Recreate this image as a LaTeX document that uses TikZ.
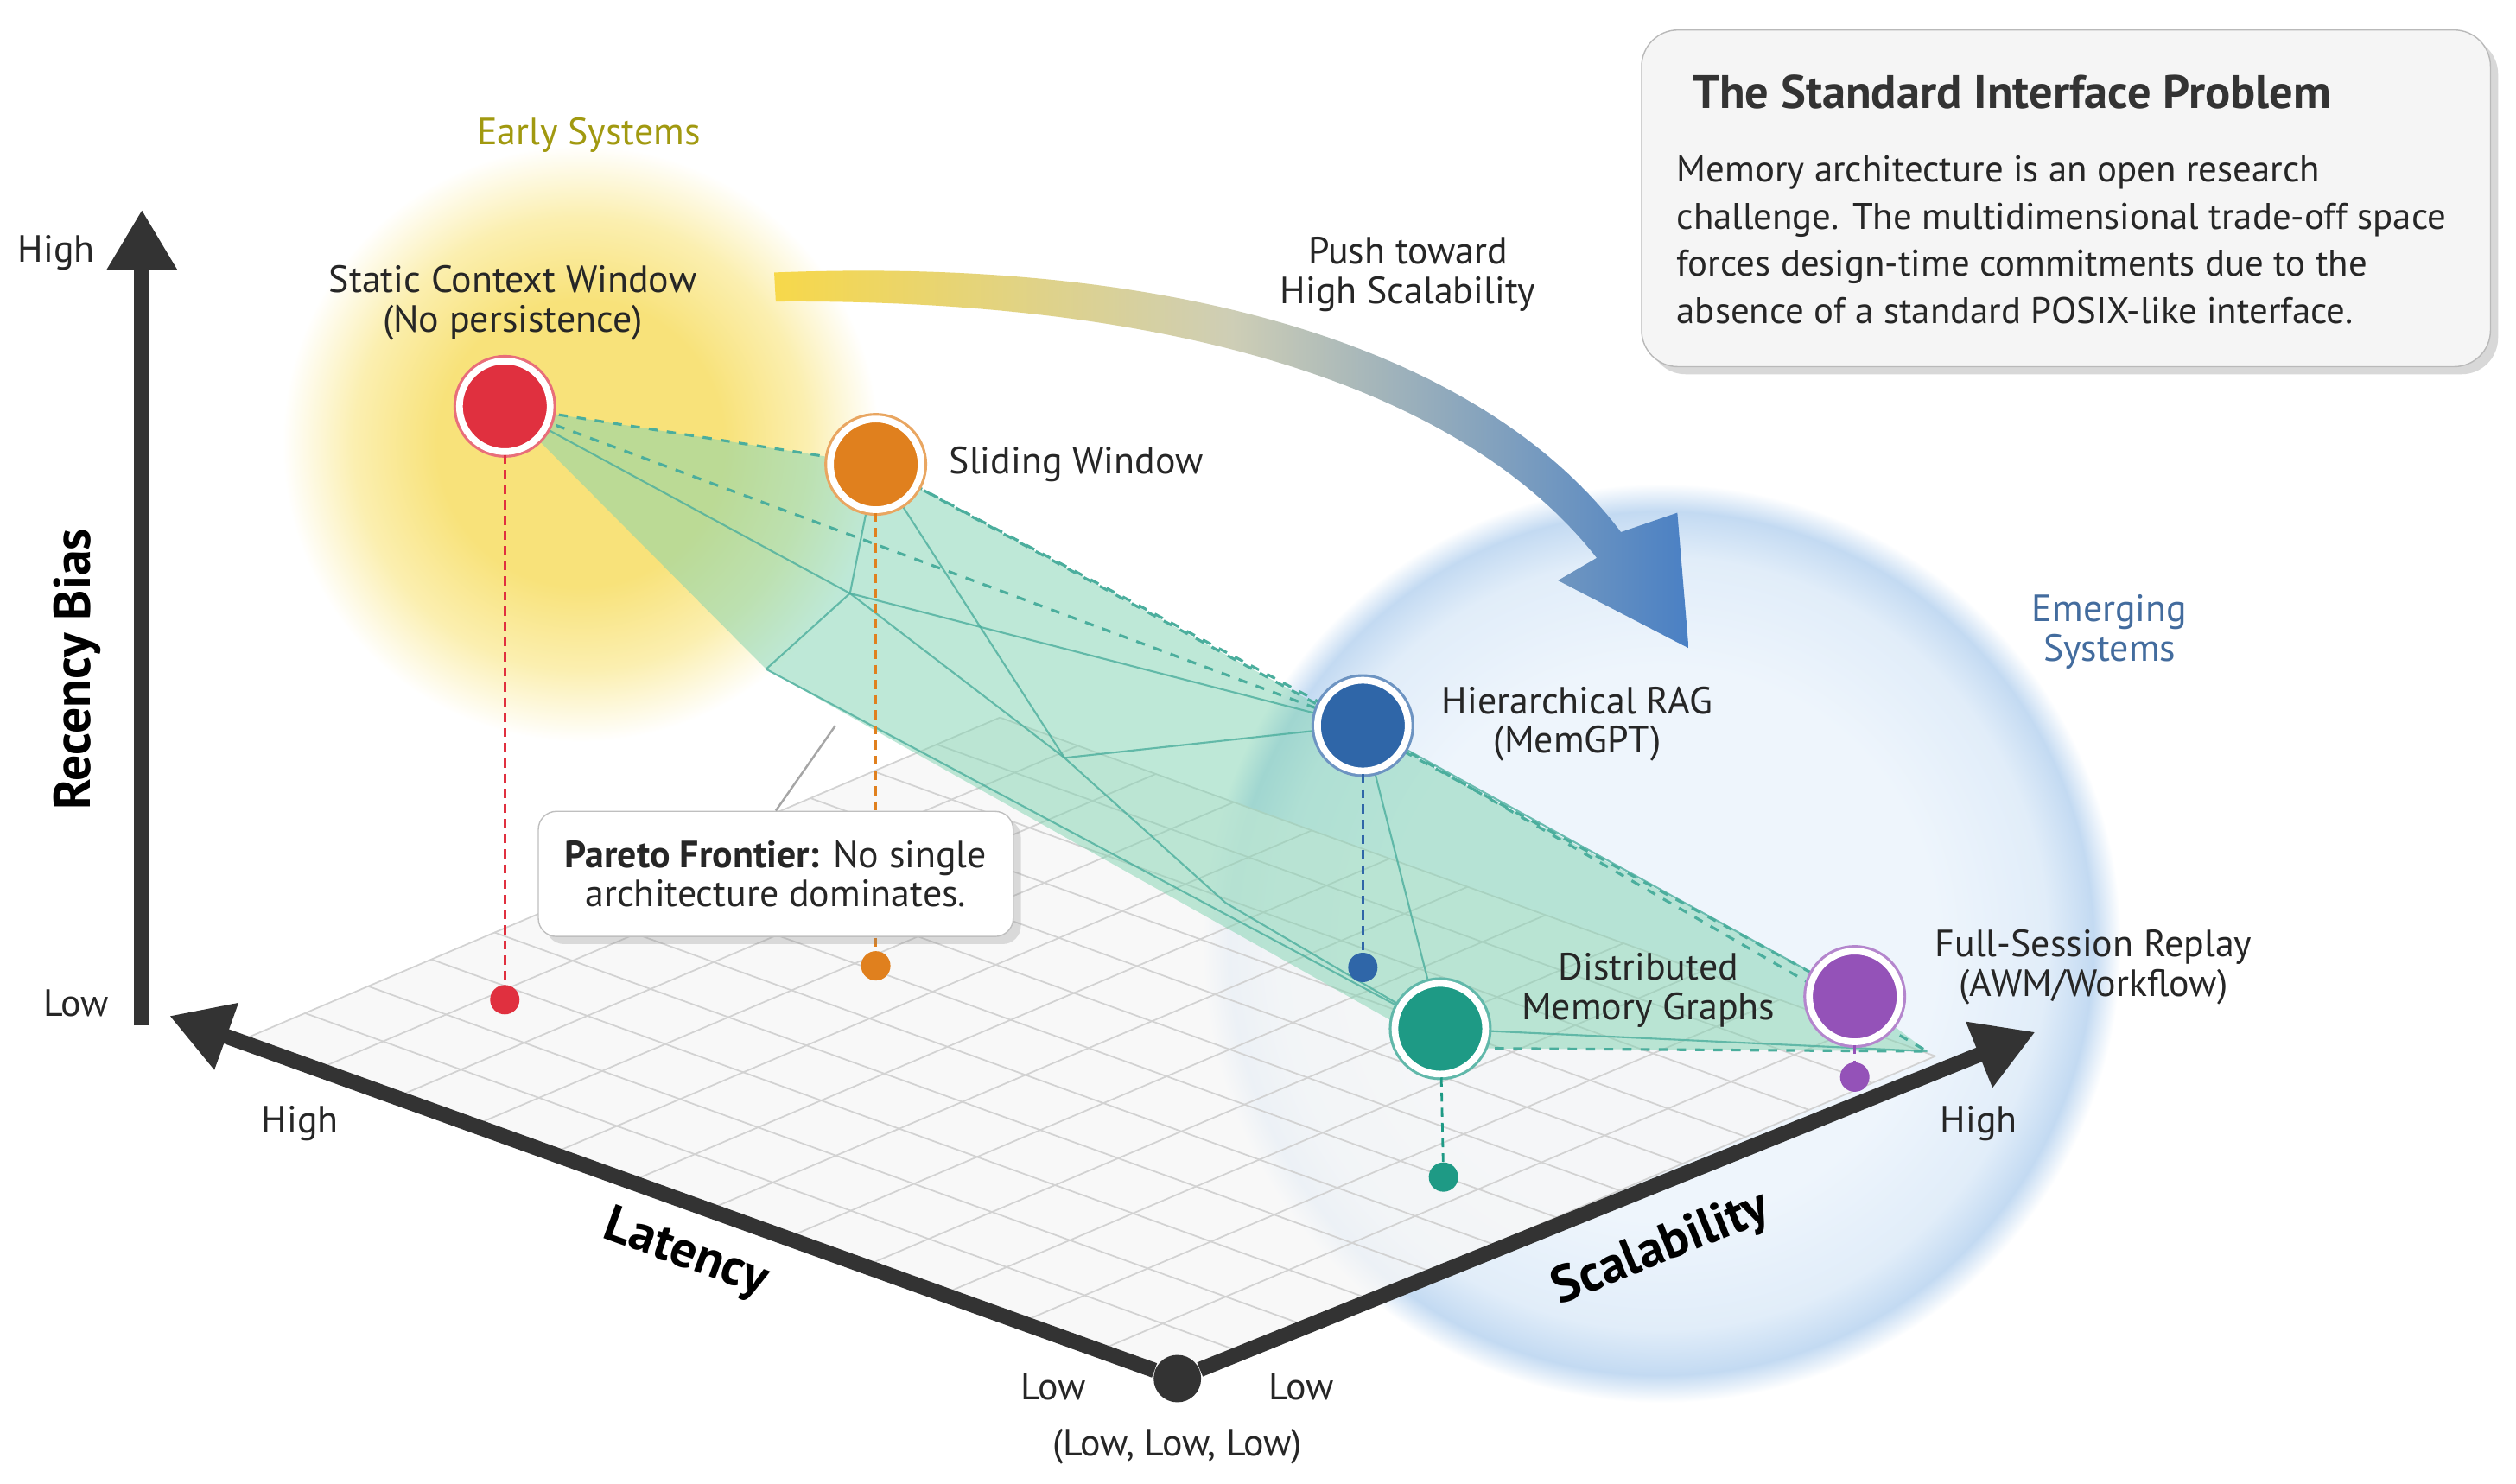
\documentclass[tikz,border=0pt]{standalone}
\usepackage{fontspec}
\setmainfont{PT Sans}
\usetikzlibrary{arrows.meta,shadows,calc}
\definecolor{gy1}{HTML}{F8E27A}
\definecolor{gy2}{HTML}{FBEFB0}
\definecolor{gb0}{HTML}{EEF5FC}
\definecolor{gb1}{HTML}{E1EDF9}
\definecolor{gb2}{HTML}{C3DAF2}
\pgfdeclareradialshading{yglow}{\pgfpoint{0bp}{0bp}}{color(0bp)=(gy1);color(12bp)=(gy1);color(19bp)=(gy2);color(25bp)=(white)}
\pgfdeclareradialshading{bglow}{\pgfpoint{0bp}{0bp}}{color(0bp)=(gb0);color(15bp)=(gb0);color(21bp)=(gb1);color(23.5bp)=(gb2);color(25bp)=(white)}
\definecolor{pred}{HTML}{E0303F}
\definecolor{porange}{HTML}{E0801E}
\definecolor{pblue}{HTML}{2F66A8}
\definecolor{pteal}{HTML}{1E9A85}
\definecolor{ppurple}{HTML}{9452B8}
\definecolor{axisc}{HTML}{333333}
\definecolor{sheet}{HTML}{7FD3B0}
\definecolor{abl}{HTML}{4A80C4}
\definecolor{aye}{HTML}{F7D84A}
\tikzset{
  x=0.01867cm, y=-0.01867cm,
  pt/.style={circle, fill=#1, draw=white, line width=2.2pt, minimum size=1.05cm, inner sep=0pt,
     preaction={draw=#1!70, line width=4pt}},
  dot/.style={circle, fill=#1, inner sep=0pt, minimum size=0.34cm},
  lbl/.style={font=\fontsize{12.5}{15}\selectfont, align=center, text=black!85},
  tick/.style={font=\fontsize{12.5}{15}\selectfont, text=black!85},
  axis/.style={line width=5pt, draw=axisc, -{Triangle[length=20pt,width=22pt]}},
  drop/.style={densely dashed, line width=0.8pt, draw=#1},
  sl/.style={pteal!80, line width=0.6pt, opacity=0.8},
}
\begin{document}
\begin{tikzpicture}
\useasboundingbox (0,0) rectangle (1560,920);
\fill[white] (0,0) rectangle (1560,920);
% glows
\shade[shading=yglow] (360,275) circle (185);
\shade[shading=bglow] (1030,585) circle (285);
% floor grid
\coordinate (O) at (730,855);
\coordinate (FA) at (150,645);
\coordinate (FB) at (1200,655);
\fill[gray!6, opacity=0.8] (O) -- (FA) -- ($(FA)+(FB)-(O)$) -- (FB) -- cycle;
\foreach \i in {0,1,...,12}{
  \draw[gray!35, line width=0.5pt] ($(O)!\i/12!(FA)$) -- ($(FB)!\i/12!($(FA)+(FB)-(O)$)$);
  \draw[gray!35, line width=0.5pt] ($(O)!\i/12!(FB)$) -- ($(FA)!\i/12!($(FA)+(FB)-(O)$)$);
}
% Pareto surface
\fill[sheet, opacity=0.5] (313,252) -- (543,288) -- (1150,618) -- (1195,652) -- (893,650) -- (475,415) -- cycle;
\coordinate (M) at (527,368);
\foreach \p in {(313,252),(543,288),(845,450),(475,415),(660,470)}
  \draw[sl] (M) -- \p;
\draw[sl] (543,288) -- (660,470) -- (845,450) -- (893,638) -- (760,560) -- (660,470);
\draw[sl] (475,415) -- (893,638) -- (1195,652);
\draw[sl] (845,450) -- (1150,618);
\draw[pteal!80, dashed, line width=0.9pt] (313,252) -- (543,288) -- (845,450);
\draw[pteal!80, dashed, line width=0.9pt] (313,252) -- (845,450);
\draw[pteal!80, dashed, line width=0.9pt] (543,288) -- (1150,618);
\draw[pteal!80, dashed, line width=0.9pt] (893,650) -- (1195,652) -- (845,450);
% axes
\node[circle, fill=axisc, minimum size=0.55cm, inner sep=0pt] (o) at (O) {};
\coordinate (lx) at (105,630);
\coordinate (sx) at (1262,640);
\coordinate (vb) at (88,636);
\coordinate (vt) at (88,130);
\draw[axis] (o) -- (lx);
\draw[axis] (o) -- (sx);
\draw[axis] (vb) -- (vt);
% axis labels
\node[font=\bfseries\fontsize{17}{19}\selectfont, rotate=90, inner sep=0pt] (rb) at (48,415) {Recency Bias};
\node[font=\bfseries\fontsize{17}{19}\selectfont, rotate=-20, inner sep=0pt] (lat) at (425,778) {Latency};
\node[font=\bfseries\fontsize{17}{19}\selectfont, rotate=22, inner sep=0pt] (sca) at (1030,775) {Scalability};
\node[tick] (t1) at (35,157) {High};
\node[tick] (t2) at (47,622) {Low};
\node[tick] (t3) at (186,697) {High};
\node[tick] (t4) at (653,860) {Low};
\node[tick] (t5) at (807,860) {Low};
\node[tick] (t6) at (730,897) {(Low, Low, Low)};
\node[tick] (t7) at (1227,697) {High};
% glow labels
\node[lbl, text=olive!70!yellow!90!black] (es) at (365,84) {Early Systems};
\node[lbl, text=pblue!75!gray, align=center] (em) at (1308,392) {Emerging\\[-2pt]Systems};
% curved arrow
\shade[left color=aye, right color=abl, middle color=gray!70!yellow!80!black!40, shading angle=90]
  (480,169) .. controls (760,158) and (930,230) .. (1005,330)
  -- (1040,318) -- (1047,402) -- (966,360) -- (990,346)
  .. controls (915,250) and (750,185) .. (481,187) -- cycle;
\node[lbl] (push) at (873,170) {Push toward\\[-2pt]High Scalability};
% drop lines and floor dots
\node[dot=pred] (d1) at (313,620) {};
\node[dot=porange] (d2) at (543,599) {};
\node[dot=pblue] (d3) at (845,600) {};
\node[dot=pteal] (d4) at (895,730) {};
\node[dot=ppurple] (d5) at (1150,668) {};
\node[pt=pred] (p1) at (313,252) {};
\node[pt=porange] (p2) at (543,288) {};
\node[pt=pblue] (p3) at (845,450) {};
\node[pt=pteal] (p4) at (893,638) {};
\node[pt=ppurple] (p5) at (1150,618) {};
\draw[drop=pred] (p1) -- (d1);
\draw[drop=porange] (p2) -- (d2);
\draw[drop=pblue] (p3) -- (d3);
\draw[drop=pteal] (p4) -- (d4);
\draw[drop=ppurple] (p5) -- (d5);
% point labels
\node[lbl] (l1) at (318,188) {Static Context Window\\[-2pt](No persistence)};
\node[lbl, anchor=west] (l2) at (582,288) {Sliding Window};
\node[lbl] (l3) at (978,449) {Hierarchical RAG\\[-2pt](MemGPT)};
\node[lbl] (l4) at (1022,614) {Distributed\\[-2pt]Memory Graphs};
\node[lbl] (l5) at (1298,600) {Full-Session Replay\\[-2pt](AWM/Workflow)};
% Pareto callout
\coordinate (pf) at (518,450);
\node[draw=gray!50, fill=white, rounded corners=6pt, drop shadow={opacity=0.25}, lbl, minimum width=5.5cm, minimum height=1.45cm] (pareto) at (481,542) {\textbf{Pareto Frontier:} No single\\[-2pt]architecture dominates.};
\draw[gray!70, line width=0.7pt] (pareto.north) -- (pf);
% info box
\node[draw=gray!55, fill=gray!8, rounded corners=12pt, drop shadow={opacity=0.3}, minimum width=9.83cm, minimum height=3.9cm] (box) at (1281,123) {};
\node[anchor=north west, font=\bfseries\fontsize{15.5}{18}\selectfont, text=black!80] (bt) at (1043,40) {The Standard Interface Problem};
\node[anchor=north west, align=left, font=\fontsize{12.2}{15.5}\selectfont, text=black!85] (bb) at (1033,90) {Memory architecture is an open research\\challenge. The multidimensional trade-off space\\forces design-time commitments due to the\\absence of a standard POSIX-like interface.};
\end{tikzpicture}
\end{document}
